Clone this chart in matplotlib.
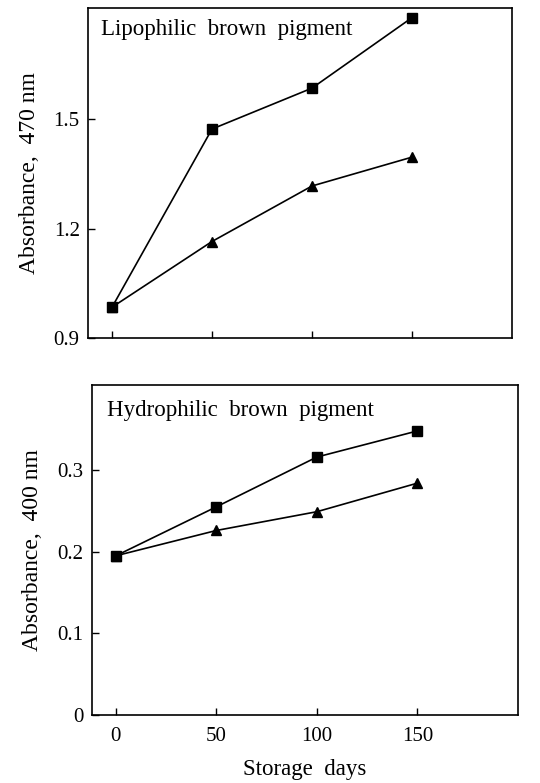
import matplotlib
matplotlib.use("Agg")
import matplotlib.pyplot as plt

days = [0, 50, 100, 150]
lipo_square = [0.985, 1.473, 1.585, 1.778]
lipo_triangle = [0.985, 1.165, 1.317, 1.396]
hydro_square = [0.195, 0.255, 0.316, 0.348]
hydro_triangle = [0.195, 0.226, 0.249, 0.284]

plt.rcParams['font.family'] = ['Liberation Serif', 'DejaVu Serif']

fig = plt.figure(figsize=(5.4, 7.83), dpi=100)
ax1 = fig.add_axes([0.163, 0.568, 0.785, 0.422])
ax2 = fig.add_axes([0.170, 0.087, 0.789, 0.421])

for ax in (ax1, ax2):
    ax.tick_params(direction='in', length=5, width=1, labelsize=15, pad=6)
    ax.tick_params(axis='x', pad=9)
    for s in ax.spines.values():
        s.set_linewidth(1.2)
    ax.set_xlim(-12, 200)
    ax.set_xticks(days)

ax1.plot(days, lipo_square, color='black', lw=1.2, marker='s', ms=7)
ax1.plot(days, lipo_triangle, color='black', lw=1.2, marker='^', ms=7)
ax1.set_ylim(0.9, 1.805)
ax1.set_yticks([0.9, 1.2, 1.5])
ax1.set_yticklabels(['0.9', '1.2', '1.5'])
ax1.set_xticklabels([])
ax1.set_ylabel('Absorbance,  470 nm', fontsize=17, labelpad=10)
ax1.text(0.03, 0.965, 'Lipophilic  brown  pigment', transform=ax1.transAxes, fontsize=16.5, va='top', ha='left')

ax2.plot(days, hydro_square, color='black', lw=1.2, marker='s', ms=7)
ax2.plot(days, hydro_triangle, color='black', lw=1.2, marker='^', ms=7)
ax2.set_ylim(0, 0.404)
ax2.set_yticks([0, 0.1, 0.2, 0.3])
ax2.set_yticklabels(['0', '0.1', '0.2', '0.3'])
ax2.set_xticklabels(['0', '50', '100', '150'])
ax2.set_ylabel('Absorbance,  400 nm', fontsize=17, labelpad=10)
ax2.set_xlabel('Storage  days', fontsize=16.5, labelpad=9)
ax2.text(0.035, 0.955, 'Hydrophilic  brown  pigment', transform=ax2.transAxes, fontsize=16.5, va='top', ha='left')

fig.savefig('out.png', dpi=100)
